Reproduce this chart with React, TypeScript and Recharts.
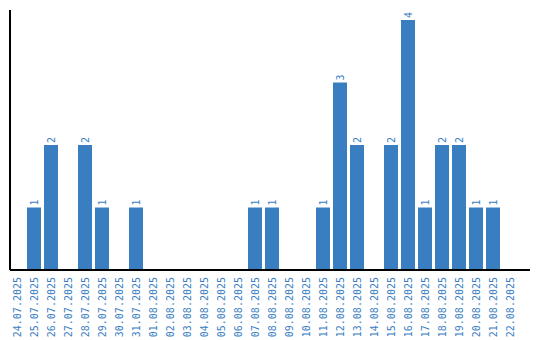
import { BarChart, Bar, XAxis, YAxis, LabelList } from 'recharts';

const DATES = [
    '24.07.2025', '25.07.2025', '26.07.2025', '27.07.2025', '28.07.2025', '29.07.2025',
    '30.07.2025', '31.07.2025', '01.08.2025', '02.08.2025', '03.08.2025', '04.08.2025',
    '05.08.2025', '06.08.2025', '07.08.2025', '08.08.2025', '09.08.2025', '10.08.2025',
    '11.08.2025', '12.08.2025', '13.08.2025', '14.08.2025', '15.08.2025', '16.08.2025',
    '17.08.2025', '18.08.2025', '19.08.2025', '20.08.2025', '21.08.2025', '22.08.2025',
];

const COUNTS = [0, 1, 2, 0, 2, 1, 0, 1, 0, 0, 0, 0, 0, 0, 1, 1, 0, 0, 1, 3, 2, 0, 2, 4, 1, 2, 2, 1, 1, 0];

const BLUE = '#3a7ec2';
const FONT = '"DejaVu Sans Mono", monospace';

const data = DATES.map((date, i) => ({ date, count: COUNTS[i] }));

// rotated date label, reads bottom-to-top, top end just under the axis
function DateTick({ x, payload }: any) {
    const ty = 277;
    return (
        <text
            x={x}
            y={ty}
            dy="0.35em"
            transform={`rotate(-90, ${x}, ${ty})`}
            textAnchor="end"
            fill={BLUE}
            fontFamily={FONT}
            fontSize={10}
        >
            {payload.value}
        </text>
    );
}

function ValueLabel({ x, y, width, value }: any) {
    if (!value) return null;
    const cx = x + width / 2;
    const ty = y - 2;
    return (
        <text
            x={cx}
            y={ty}
            dy="0.35em"
            transform={`rotate(-90, ${cx}, ${ty})`}
            textAnchor="start"
            fill={BLUE}
            fontFamily={FONT}
            fontSize={10}
        >
            {value}
        </text>
    );
}

export default function App() {
    return (
        <div style={{ position: 'absolute', left: 0, top: 0, background: '#fff' }}>
            <BarChart
                width={540}
                height={340}
                data={data}
                margin={{ top: 10, right: 10, bottom: 0, left: 0 }}
                barCategoryGap={1.5}
            >
                <XAxis
                    dataKey="date"
                    interval={0}
                    height={70}
                    tickLine={false}
                    axisLine={{ stroke: '#000', strokeWidth: 2 }}
                    tick={<DateTick />}
                    padding={{ left: -1.5, right: 11.5 }}
                />
                <YAxis
                    width={10}
                    domain={[0, 4.16]}
                    tick={false}
                    tickLine={false}
                    axisLine={{ stroke: '#000', strokeWidth: 2 }}
                    allowDataOverflow
                />
                <Bar dataKey="count" fill={BLUE} isAnimationActive={false}>
                    <LabelList dataKey="count" content={<ValueLabel />} />
                </Bar>
            </BarChart>
        </div>
    );
}
